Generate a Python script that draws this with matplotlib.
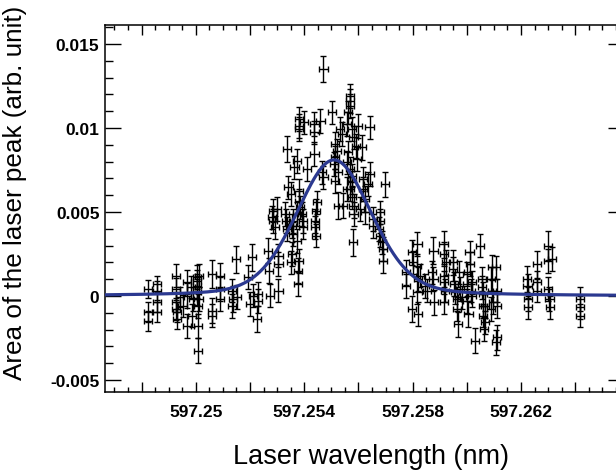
import numpy as np
import matplotlib
matplotlib.use("Agg")
import matplotlib.pyplot as plt
from matplotlib.ticker import MultipleLocator, FuncFormatter

plt.rcParams['font.family'] = ['Liberation Sans', 'DejaVu Sans']
plt.rcParams['font.weight'] = 'bold'

# measured points: laser wavelength (nm), peak area, error on the area
wavelength = [
    597.24823, 597.24823, 597.24823, 597.24858, 597.24858, 597.24858, 597.24858,
    597.24927, 597.24927, 597.24927, 597.24927, 597.24930, 597.24930, 597.24942,
    597.24951, 597.24967, 597.24967, 597.24969, 597.24983, 597.24985, 597.24989,
    597.25004, 597.25004, 597.25004, 597.25004, 597.25007, 597.25007, 597.25007,
    597.25012, 597.25010, 597.25061, 597.25061, 597.25061, 597.25090, 597.25090,
    597.25090, 597.25133, 597.25133, 597.25137, 597.25148, 597.25151, 597.25194,
    597.25207, 597.25200, 597.25210, 597.25225, 597.25231, 597.25231,
    # left flank and top of the peak
    597.25471, 597.25504, 597.25382, 597.25382, 597.25382, 597.25400, 597.25438,
    597.25438, 597.25438, 597.25460, 597.25338, 597.25373, 597.25364, 597.25410,
    597.25514, 597.25520, 597.25514, 597.25511, 597.25524, 597.25514, 597.25524,
    597.25532, 597.25539, 597.25471, 597.25465, 597.25342, 597.25351, 597.25379,
    597.25382, 597.25385, 597.25391, 597.25397, 597.25397, 597.25447, 597.25444,
    597.25440, 597.25440, 597.25443, 597.25360, 597.25354, 597.25360, 597.25373,
    597.25373, 597.25330, 597.25332, 597.25336, 597.25286, 597.25280, 597.25293,
    597.25286, 597.25299, 597.25268, 597.25270, 597.25305, 597.25305, 597.25354,
    597.25352, 597.25379, 597.25376, 597.25376, 597.25274, 597.25305,
    # right flank
    597.25569, 597.25569, 597.25569, 597.25563, 597.25641, 597.25557, 597.25576,
    597.25582, 597.25600, 597.25592, 597.25613, 597.25594, 597.25563, 597.25557,
    597.25569, 597.25576, 597.25576, 597.25569, 597.25576, 597.25582, 597.25582,
    597.25579, 597.25557, 597.25618, 597.25618, 597.25625, 597.25625, 597.25606,
    597.25641, 597.25637, 597.25699, 597.25680, 597.25680, 597.25677, 597.25680,
    597.25686, 597.25692, 597.25692, 597.25655, 597.25655, 597.25776, 597.25776,
    597.25797, 597.25801, 597.25797, 597.25816, 597.25819, 597.25818, 597.25542,
    597.25821, 597.25818,
    # tail
    597.25846, 597.25852, 597.25877, 597.25871, 597.25877, 597.25879, 597.25828,
    597.25914, 597.25916, 597.25916, 597.25916, 597.25916, 597.25920, 597.25924,
    597.25948, 597.25950, 597.25953, 597.25957, 597.25963, 597.25965, 597.25969,
    597.25973, 597.25975, 597.25982, 597.26049, 597.26000, 597.26000, 597.26002,
    597.26006, 597.26010, 597.26012, 597.26018, 597.26015, 597.26018, 597.26031,
    597.26055, 597.26055, 597.26059, 597.26059, 597.26061, 597.26064, 597.26068,
    597.26068, 597.26092, 597.26090, 597.26092, 597.26096, 597.26089, 597.26108,
    597.26111, 597.26113, 597.26111, 597.26108, 597.26221, 597.26224, 597.26227,
    597.26227, 597.26258, 597.26258, 597.26258, 597.26299, 597.26301, 597.26314,
    597.26301, 597.26305, 597.26307, 597.26418, 597.26418, 597.26418,
]
area = [
    0.00042, -0.00097, -0.00147, 0.00071, 0.00032, -0.00037, -0.00097,
    0.00121, 0.00042, -0.00036, -0.00077, -0.00095, -0.00137, -0.00006,
    -0.00058, 0.00083, -0.00177, 0.00002, 0.00054, -0.00117, -0.00018,
    0.00113, 0.00091, 0.00061, 0.00024, -0.00058, -0.00177, -0.00325,
    0.00121, -0.00018, 0.00131, -0.00087, -0.00117, 0.00121, 0.00042,
    -0.00018, 0.00032, -0.00058, -0.00018, 0.00220, -0.00006, 0.00113,
    0.00230, -0.00048, 0.00002, -0.00137, 0.00012, -0.00028,
    0.01351, 0.01093, 0.01053, 0.01013, 0.00994, 0.01034, 0.01023,
    0.00974, 0.00845, 0.01043, 0.00875, 0.00805, 0.00766, 0.00756,
    0.00904, 0.00865, 0.00825, 0.00785, 0.00736, 0.00686, 0.00537,
    0.00994, 0.00964, 0.00706, 0.00736, 0.00647, 0.00607, 0.00627,
    0.00567, 0.00528, 0.00488, 0.00448, 0.00409, 0.00558, 0.00508,
    0.00448, 0.00409, 0.00359, 0.00448, 0.00418, 0.00369, 0.00488,
    0.00329, 0.00488, 0.00448, 0.00399, 0.00508, 0.00468, 0.00409,
    0.00448, 0.00518, 0.00270, 0.00151, 0.00240, 0.00190, 0.00250,
    0.00200, 0.00210, 0.00151, 0.00071, 0.00002, 0.00032,
    0.01192, 0.01162, 0.01132, 0.01093, 0.01004, 0.01023, 0.00994,
    0.00944, 0.01013, 0.00894, 0.00885, 0.00815, 0.00855, 0.00795,
    0.00756, 0.00716, 0.00677, 0.00637, 0.00587, 0.00537, 0.00488,
    0.00320, 0.00637, 0.00696, 0.00637, 0.00577, 0.00498, 0.00518,
    0.00726, 0.00666, 0.00666, 0.00498, 0.00448, 0.00399, 0.00359,
    0.00320, 0.00280, 0.00210, 0.00458, 0.00418, 0.00141, 0.00061,
    0.00260, 0.00200, -0.00077, 0.00180, 0.00101, 0.00022, 0.00537,
    -0.00107, 0.00309,
    0.00061, 0.00032, 0.00270, 0.00141, 0.00101, -0.00037, 0.00121,
    0.00309, 0.00250, 0.00121, 0.00082, -0.00037, 0.00032, 0.00200,
    0.00200, 0.00161, 0.00071, 0.00022, -0.00018, -0.00077, -0.00167,
    0.00141, 0.00042, -0.00008, 0.00300, 0.00131, 0.00071, -0.00028,
    -0.00107, 0.00260, 0.00190, 0.00082, 0.00032, 0.00002, -0.00266,
    0.00101, 0.00052, 0.00012, -0.00058, -0.00117, -0.00196, -0.00058,
    -0.00156, 0.00171, 0.00101, 0.00032, -0.00037, -0.00077, 0.00171,
    0.00032, -0.00058, -0.00246, -0.00275, 0.00101, 0.00061, -0.00018,
    -0.00067, 0.00190, 0.00082, 0.00032, 0.00300, 0.00210, 0.00220,
    0.00042, -0.00018, -0.00067, -0.00018, -0.00067, -0.00117,
]
area_err = [
    0.00055, 0.00060, 0.00060, 0.00050, 0.00055, 0.00060, 0.00060,
    0.00070, 0.00065, 0.00060, 0.00065, 0.00060, 0.00060, 0.00060,
    0.00065, 0.00070, 0.00070, 0.00075, 0.00065, 0.00070, 0.00070,
    0.00070, 0.00065, 0.00070, 0.00075, 0.00070, 0.00070, 0.00075,
    0.00070, 0.00070, 0.00085, 0.00075, 0.00070, 0.00075, 0.00070,
    0.00070, 0.00070, 0.00070, 0.00075, 0.00080, 0.00070, 0.00070,
    0.00080, 0.00070, 0.00070, 0.00075, 0.00070, 0.00070,
    0.00075, 0.00070, 0.00070, 0.00070, 0.00070, 0.00070, 0.00070,
    0.00070, 0.00070, 0.00070, 0.00075, 0.00070, 0.00070, 0.00070,
    0.00070, 0.00070, 0.00070, 0.00070, 0.00070, 0.00070, 0.00080,
    0.00070, 0.00070, 0.00070, 0.00070, 0.00070, 0.00070, 0.00070,
    0.00070, 0.00070, 0.00070, 0.00070, 0.00070, 0.00070, 0.00070,
    0.00070, 0.00070, 0.00070, 0.00070, 0.00070, 0.00070, 0.00070,
    0.00070, 0.00070, 0.00070, 0.00070, 0.00070, 0.00070, 0.00070,
    0.00070, 0.00070, 0.00075, 0.00075, 0.00070, 0.00070, 0.00070,
    0.00070, 0.00070, 0.00075, 0.00070, 0.00070, 0.00070,
    0.00070, 0.00070, 0.00070, 0.00070, 0.00070, 0.00070, 0.00070,
    0.00070, 0.00070, 0.00070, 0.00075, 0.00070, 0.00070, 0.00070,
    0.00070, 0.00070, 0.00070, 0.00070, 0.00070, 0.00070, 0.00070,
    0.00080, 0.00070, 0.00070, 0.00070, 0.00075, 0.00070, 0.00070,
    0.00070, 0.00070, 0.00075, 0.00070, 0.00070, 0.00070, 0.00070,
    0.00070, 0.00070, 0.00070, 0.00070, 0.00070, 0.00075, 0.00070,
    0.00075, 0.00070, 0.00080, 0.00070, 0.00070, 0.00070, 0.00075,
    0.00070, 0.00070,
    0.00070, 0.00070, 0.00080, 0.00070, 0.00070, 0.00075, 0.00070,
    0.00080, 0.00070, 0.00070, 0.00070, 0.00070, 0.00070, 0.00075,
    0.00075, 0.00070, 0.00070, 0.00070, 0.00070, 0.00070, 0.00075,
    0.00070, 0.00070, 0.00070, 0.00070, 0.00070, 0.00070, 0.00070,
    0.00075, 0.00070, 0.00070, 0.00070, 0.00070, 0.00070, 0.00075,
    0.00070, 0.00070, 0.00070, 0.00070, 0.00070, 0.00070, 0.00070,
    0.00070, 0.00075, 0.00070, 0.00070, 0.00070, 0.00070, 0.00070,
    0.00070, 0.00070, 0.00075, 0.00075, 0.00075, 0.00070, 0.00070,
    0.00070, 0.00080, 0.00070, 0.00070, 0.00085, 0.00070, 0.00070,
    0.00070, 0.00070, 0.00070, 0.00070, 0.00070, 0.00070,
]
wl_err = 0.00015

# fitted line shape (pseudo-Voigt)
fit_amp = 0.0081
fit_center = 597.2551
fit_fwhm = 0.0033
fit_eta = 0.25

fig = plt.figure(figsize=(6.16, 4.77), dpi=100)
ax = fig.add_axes([105 / 616, 84 / 477, 519 / 616, 367.5 / 477])

ax.errorbar(wavelength, area, yerr=area_err, xerr=wl_err, fmt='none',
            ecolor='black', elinewidth=1.0, capsize=2.2, capthick=1.0, zorder=2)

xs = np.linspace(597.2466, 597.2658, 800)
u = 4 * (xs - fit_center) ** 2 / fit_fwhm ** 2
fit = fit_amp * (fit_eta / (1 + u) + (1 - fit_eta) * np.exp(-np.log(2) * u))
ax.plot(xs, fit, color='#2b3990', lw=2.3, zorder=3)

ax.set_xlim(597.24665, 597.26580)
ax.set_ylim(-0.00571, 0.01616)

ax.xaxis.set_major_locator(MultipleLocator(0.002))
ax.xaxis.set_minor_locator(MultipleLocator(0.0005))
ax.yaxis.set_major_locator(MultipleLocator(0.005))
ax.yaxis.set_minor_locator(MultipleLocator(0.001))


def fmt_x(v, pos):
    k = int(round((v - 597.25) / 0.002))
    if k % 2 != 0:
        return ""
    return f"{round(v, 4):g}"


def fmt_y(v, pos):
    v = round(v, 6)
    if v == 0:
        return "0"
    return f"{v:g}"


ax.xaxis.set_major_formatter(FuncFormatter(fmt_x))
ax.yaxis.set_major_formatter(FuncFormatter(fmt_y))

ax.tick_params(which='both', direction='in', top=True, right=True, width=1.0,
               labelsize=12.5)
ax.tick_params(axis='x', which='major', length=7.2, pad=9)
ax.tick_params(axis='x', which='minor', length=3.6)
ax.tick_params(axis='y', which='major', length=11.5, pad=4)
ax.tick_params(axis='y', which='minor', length=5.8)
for sp in ax.spines.values():
    sp.set_linewidth(1.1)

fig.text(371 / 616, 1 - 457 / 477, "Laser wavelength (nm)", ha='center',
         va='center', fontsize=19.5, fontweight='normal')
fig.text(15 / 616, 1 - 193 / 477, "Area of the laser peak (arb. unit)",
         ha='center', va='center', rotation=90, fontsize=18.8,
         fontweight='normal')

fig.savefig("out.png", dpi=100)
